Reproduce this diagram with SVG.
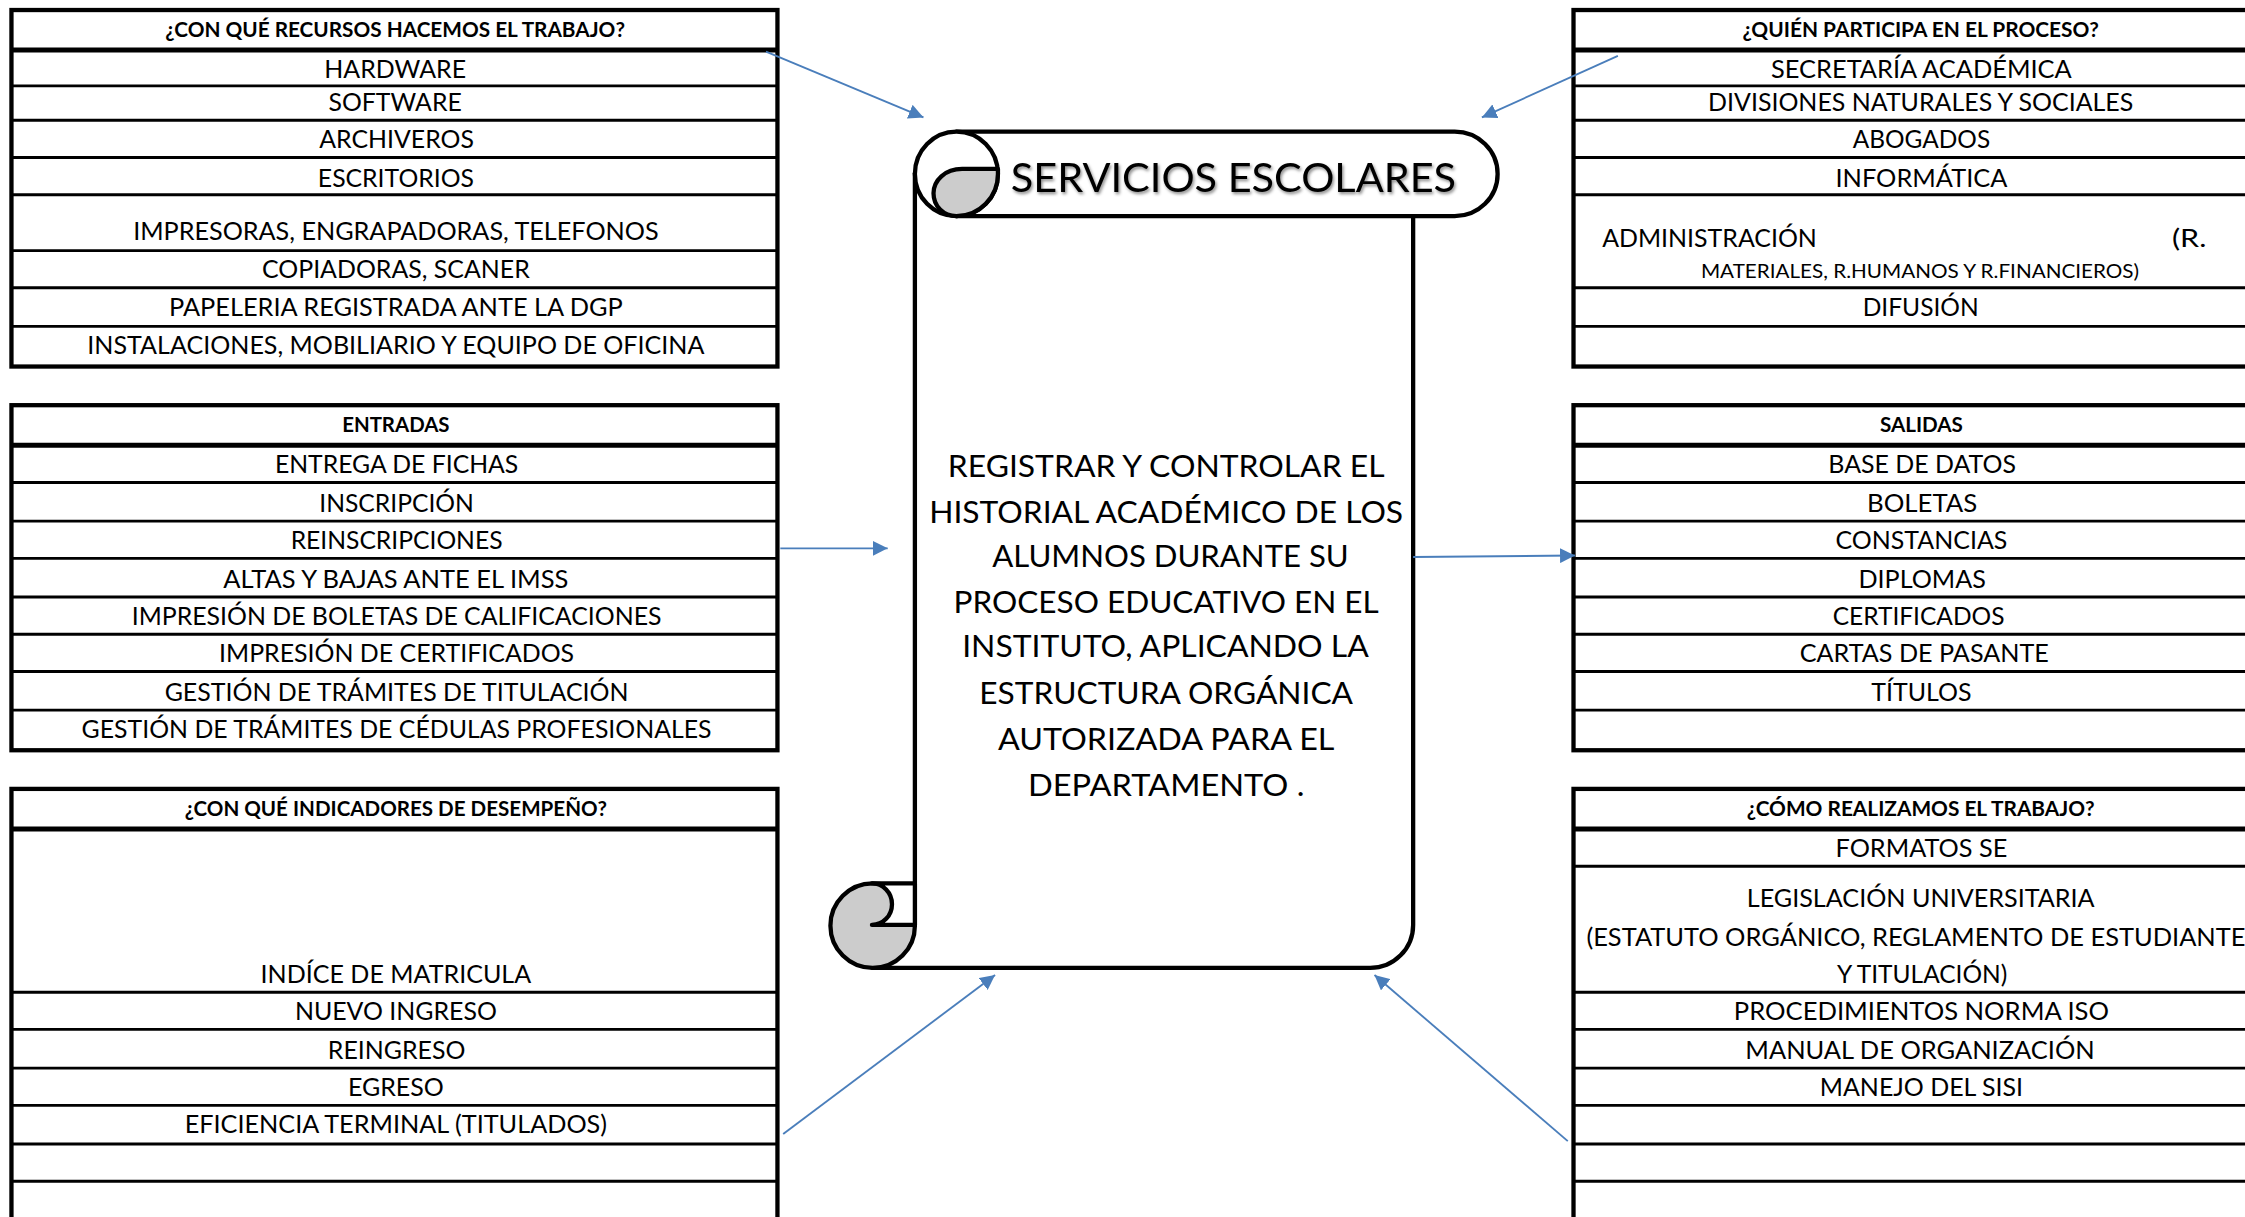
<svg xmlns="http://www.w3.org/2000/svg" width="2245" height="1217" viewBox="0 0 2245 1217">
<defs>
<style>
.box{fill:#fff;stroke:#000;stroke-width:3}
.sep{stroke:#000;stroke-width:2}
.hsep{stroke:#000;stroke-width:3.5}
.t{font-family:Lato,"Open Sans","DejaVu Sans",sans-serif;font-size:18px;text-anchor:middle;fill:#000}
.ts{font-family:Lato,"Open Sans","DejaVu Sans",sans-serif;font-size:18px;text-anchor:start;fill:#000}
.sm{font-family:Lato,"Open Sans","DejaVu Sans",sans-serif;font-size:14px;text-anchor:middle;fill:#000}
.h{font-family:Lato,"Open Sans","DejaVu Sans",sans-serif;font-size:14px;font-weight:bold;text-anchor:middle;fill:#000}
.c{font-family:Lato,"Open Sans","DejaVu Sans",sans-serif;font-size:22px;text-anchor:middle;fill:#000}
.ttl{font-family:Lato,"Open Sans","DejaVu Sans",sans-serif;font-size:28px;text-anchor:middle;fill:#000}
.ln{fill:none;stroke:#000;stroke-width:3;stroke-linecap:round;stroke-linejoin:round}
.conn{fill:none;stroke:#4a7ebb;stroke-width:1.3;marker-end:url(#ah)}
</style>
<marker id="ah" viewBox="0 0 10 10" refX="10" refY="5" markerWidth="8" markerHeight="8" orient="auto" markerUnits="strokeWidth">
<path d="M0,0 L10,5 L0,10 Z" fill="#4a7ebb"/>
</marker>
<filter id="sh" x="-10%" y="-30%" width="120%" height="160%">
<feDropShadow dx="1" dy="1.5" stdDeviation="1" flood-color="#000" flood-opacity="0.45"/>
</filter>
</defs>
<rect width="2245" height="1217" fill="#fff"/>
<g transform="scale(1.43176)">

<g id="box-recursos">
<rect class="box" x="8" y="7" width="535" height="249"/>
<line class="hsep" x1="8" y1="35" x2="543" y2="35"/>
<path class="sep" d="M8 60H543M8 84H543M8 110H543M8 136H543M8 175H543M8 201H543M8 228H543"/>
<text class="h" x="276" y="26" textLength="321" lengthAdjust="spacingAndGlyphs">¿CON QUÉ RECURSOS HACEMOS EL TRABAJO?</text>
<text class="t" x="276" y="54.5" textLength="99" lengthAdjust="spacingAndGlyphs">HARDWARE</text>
<text class="t" x="276" y="77.5" textLength="93" lengthAdjust="spacingAndGlyphs">SOFTWARE</text>
<text class="t" x="277" y="103.5" textLength="108" lengthAdjust="spacingAndGlyphs">ARCHIVEROS</text>
<text class="t" x="276.5" y="130.5" textLength="109" lengthAdjust="spacingAndGlyphs">ESCRITORIOS</text>
<text class="t" x="276.5" y="167.5" textLength="367" lengthAdjust="spacingAndGlyphs">IMPRESORAS, ENGRAPADORAS, TELEFONOS</text>
<text class="t" x="276.5" y="194.5" textLength="187" lengthAdjust="spacingAndGlyphs">COPIADORAS, SCANER</text>
<text class="t" x="276.5" y="220.5" textLength="317" lengthAdjust="spacingAndGlyphs">PAPELERIA REGISTRADA ANTE LA DGP</text>
<text class="t" x="276.5" y="247.5" textLength="431" lengthAdjust="spacingAndGlyphs">INSTALACIONES, MOBILIARIO Y EQUIPO DE OFICINA</text>
</g>

<g id="box-entradas">
<rect class="box" x="8" y="283" width="535" height="241"/>
<line class="hsep" x1="8" y1="311" x2="543" y2="311"/>
<path class="sep" d="M8 337H543M8 364H543M8 390H543M8 417H543M8 443H543M8 469H543M8 496H543"/>
<text class="h" x="276.5" y="302" textLength="75" lengthAdjust="spacingAndGlyphs">ENTRADAS</text>
<text class="t" x="277" y="330.5" textLength="170" lengthAdjust="spacingAndGlyphs">ENTREGA DE FICHAS</text>
<text class="t" x="277" y="357.5" textLength="108" lengthAdjust="spacingAndGlyphs">INSCRIPCIÓN</text>
<text class="t" x="277" y="383.5" textLength="148" lengthAdjust="spacingAndGlyphs">REINSCRIPCIONES</text>
<text class="t" x="276.5" y="410.5" textLength="241" lengthAdjust="spacingAndGlyphs">ALTAS Y BAJAS ANTE EL IMSS</text>
<text class="t" x="277" y="436.5" textLength="370" lengthAdjust="spacingAndGlyphs">IMPRESIÓN DE BOLETAS DE CALIFICACIONES</text>
<text class="t" x="277" y="462.5" textLength="248" lengthAdjust="spacingAndGlyphs">IMPRESIÓN DE CERTIFICADOS</text>
<text class="t" x="277" y="489.5" textLength="324" lengthAdjust="spacingAndGlyphs">GESTIÓN DE TRÁMITES DE TITULACIÓN</text>
<text class="t" x="277" y="515.5" textLength="440" lengthAdjust="spacingAndGlyphs">GESTIÓN DE TRÁMITES DE CÉDULAS PROFESIONALES</text>
</g>

<g id="box-indicadores">
<rect class="box" x="8" y="551" width="535" height="312"/>
<line class="hsep" x1="8" y1="579" x2="543" y2="579"/>
<path class="sep" d="M8 693H543M8 719H543M8 746H543M8 772H543M8 799H543M8 825H543"/>
<text class="h" x="276.5" y="570" textLength="295" lengthAdjust="spacingAndGlyphs">¿CON QUÉ INDICADORES DE DESEMPEÑO?</text>
<text class="t" x="276.5" y="686.5" textLength="189" lengthAdjust="spacingAndGlyphs">INDÍCE DE MATRICULA</text>
<text class="t" x="276.5" y="712.5" textLength="141" lengthAdjust="spacingAndGlyphs">NUEVO INGRESO</text>
<text class="t" x="277" y="739.5" textLength="96" lengthAdjust="spacingAndGlyphs">REINGRESO</text>
<text class="t" x="276.5" y="765.5" textLength="67" lengthAdjust="spacingAndGlyphs">EGRESO</text>
<text class="t" x="276.5" y="791.5" textLength="295" lengthAdjust="spacingAndGlyphs">EFICIENCIA TERMINAL (TITULADOS)</text>
</g>

<g id="box-quien">
<rect class="box" x="1099" y="7" width="490" height="249"/>
<line class="hsep" x1="1099" y1="35" x2="1589" y2="35"/>
<path class="sep" d="M1099 60H1589M1099 84H1589M1099 110H1589M1099 136H1589M1099 201H1589M1099 228H1589"/>
<text class="h" x="1341.5" y="26" textLength="249" lengthAdjust="spacingAndGlyphs">¿QUIÉN PARTICIPA EN EL PROCESO?</text>
<text class="t" x="1342" y="54.5" textLength="210" lengthAdjust="spacingAndGlyphs">SECRETARÍA ACADÉMICA</text>
<text class="t" x="1341.5" y="77.5" textLength="297" lengthAdjust="spacingAndGlyphs">DIVISIONES NATURALES Y SOCIALES</text>
<text class="t" x="1342" y="103.5" textLength="96" lengthAdjust="spacingAndGlyphs">ABOGADOS</text>
<text class="t" x="1342" y="130.5" textLength="120" lengthAdjust="spacingAndGlyphs">INFORMÁTICA</text>
<text class="ts" x="1119" y="172.5" textLength="150" lengthAdjust="spacingAndGlyphs">ADMINISTRACIÓN</text>
<text class="ts" x="1517" y="172.5" font-size="15" textLength="24" lengthAdjust="spacingAndGlyphs">(R.</text>
<text class="sm" x="1341" y="194" textLength="306" lengthAdjust="spacingAndGlyphs">MATERIALES, R.HUMANOS Y R.FINANCIEROS)</text>
<text class="t" x="1341.5" y="220.5" textLength="81" lengthAdjust="spacingAndGlyphs">DIFUSIÓN</text>
</g>

<g id="box-salidas">
<rect class="box" x="1099" y="283" width="490" height="241"/>
<line class="hsep" x1="1099" y1="311" x2="1589" y2="311"/>
<path class="sep" d="M1099 337H1589M1099 364H1589M1099 390H1589M1099 417H1589M1099 443H1589M1099 469H1589M1099 496H1589"/>
<text class="h" x="1342" y="302" textLength="58" lengthAdjust="spacingAndGlyphs">SALIDAS</text>
<text class="t" x="1342.5" y="330.5" textLength="131" lengthAdjust="spacingAndGlyphs">BASE DE DATOS</text>
<text class="t" x="1342.5" y="357.5" textLength="77" lengthAdjust="spacingAndGlyphs">BOLETAS</text>
<text class="t" x="1342" y="383.5" textLength="120" lengthAdjust="spacingAndGlyphs">CONSTANCIAS</text>
<text class="t" x="1342.5" y="410.5" textLength="89" lengthAdjust="spacingAndGlyphs">DIPLOMAS</text>
<text class="t" x="1340" y="436.5" textLength="120" lengthAdjust="spacingAndGlyphs">CERTIFICADOS</text>
<text class="t" x="1344" y="462.5" textLength="174" lengthAdjust="spacingAndGlyphs">CARTAS DE PASANTE</text>
<text class="t" x="1342" y="489.5" textLength="70" lengthAdjust="spacingAndGlyphs">TÍTULOS</text>
</g>

<g id="box-como">
<rect class="box" x="1099" y="551" width="490" height="312"/>
<line class="hsep" x1="1099" y1="579" x2="1589" y2="579"/>
<path class="sep" d="M1099 605H1589M1099 693H1589M1099 719H1589M1099 746H1589M1099 772H1589M1099 799H1589M1099 825H1589"/>
<text class="h" x="1341.5" y="570" textLength="243" lengthAdjust="spacingAndGlyphs">¿CÓMO REALIZAMOS EL TRABAJO?</text>
<text class="t" x="1342" y="598.5" textLength="120" lengthAdjust="spacingAndGlyphs">FORMATOS SE</text>
<text class="t" x="1341.5" y="633.5" textLength="243" lengthAdjust="spacingAndGlyphs">LEGISLACIÓN UNIVERSITARIA</text>
<text class="ts" x="1108" y="660.5" textLength="470" lengthAdjust="spacingAndGlyphs">(ESTATUTO ORGÁNICO, REGLAMENTO DE ESTUDIANTES</text>
<text class="t" x="1342.5" y="686.5" textLength="119" lengthAdjust="spacingAndGlyphs">Y TITULACIÓN)</text>
<text class="t" x="1342" y="712.5" textLength="262" lengthAdjust="spacingAndGlyphs">PROCEDIMIENTOS  NORMA ISO</text>
<text class="t" x="1341" y="739.5" textLength="244" lengthAdjust="spacingAndGlyphs">MANUAL DE ORGANIZACIÓN</text>
<text class="t" x="1342" y="765.5" textLength="142" lengthAdjust="spacingAndGlyphs">MANEJO DEL SISI</text>
</g>

<g id="servicios-escolares">
<path d="M639 121 L639 676 L957 676 A30 30 0 0 0 987 646 L987 151 L668 151 Z" fill="#fff"/>
<path class="ln" d="M639 121 L639 646"/>
<path class="ln" d="M609 676 L957 676 A30 30 0 0 0 987 646 L987 151"/>
<ellipse cx="609.5" cy="646.5" rx="29.5" ry="29.5" fill="#cccccc" stroke="#000" stroke-width="3"/>
<path d="M609 617 L639 617 L639 646 L609 646 A14 14.5 0 0 0 609 617 Z" fill="#fff" stroke="#000" stroke-width="3" stroke-linejoin="round" stroke-linecap="round"/>
<path d="M668 92 L1016 92 A30 29.5 0 0 1 1016 151 L668 151 Z" fill="#fff" stroke="#000" stroke-width="3" stroke-linejoin="round"/>
<ellipse cx="668" cy="121.5" rx="29" ry="29.5" fill="#fff" stroke="#000" stroke-width="3"/>
<path d="M697 118 L672 118 C660 118 652 126 652 135 C652 144 659 151 668 151 A29 29.5 0 0 0 697 121.5 Z" fill="#cccccc" stroke="#000" stroke-width="3" stroke-linejoin="round"/>
<text class="ttl" x="861.5" y="134" textLength="311" lengthAdjust="spacingAndGlyphs" filter="url(#sh)">SERVICIOS ESCOLARES</text>
<text class="c" x="814.5" y="333" textLength="305" lengthAdjust="spacingAndGlyphs">REGISTRAR Y CONTROLAR EL</text>
<text class="c" x="814.5" y="365" textLength="331" lengthAdjust="spacingAndGlyphs">HISTORIAL ACADÉMICO DE LOS</text>
<text class="c" x="817.5" y="396" textLength="249" lengthAdjust="spacingAndGlyphs">ALUMNOS DURANTE SU</text>
<text class="c" x="814.5" y="428" textLength="297" lengthAdjust="spacingAndGlyphs">PROCESO EDUCATIVO EN EL</text>
<text class="c" x="814" y="459" textLength="284" lengthAdjust="spacingAndGlyphs">INSTITUTO, APLICANDO LA</text>
<text class="c" x="814.5" y="492" textLength="261" lengthAdjust="spacingAndGlyphs">ESTRUCTURA ORGÁNICA</text>
<text class="c" x="814.5" y="524" textLength="235" lengthAdjust="spacingAndGlyphs">AUTORIZADA PARA EL</text>
<text class="c" x="814.5" y="556" textLength="193" lengthAdjust="spacingAndGlyphs">DEPARTAMENTO .</text>
</g>

<g id="connectors">
<line class="conn" x1="535" y1="36" x2="645" y2="82"/>
<line class="conn" x1="1130" y1="39" x2="1035" y2="82"/>
<line class="conn" x1="545" y1="383" x2="620" y2="383"/>
<line class="conn" x1="987" y1="389" x2="1100" y2="388"/>
<line class="conn" x1="547" y1="792" x2="695" y2="681"/>
<line class="conn" x1="1095" y1="797" x2="960" y2="681"/>
</g>
</g>
</svg>
